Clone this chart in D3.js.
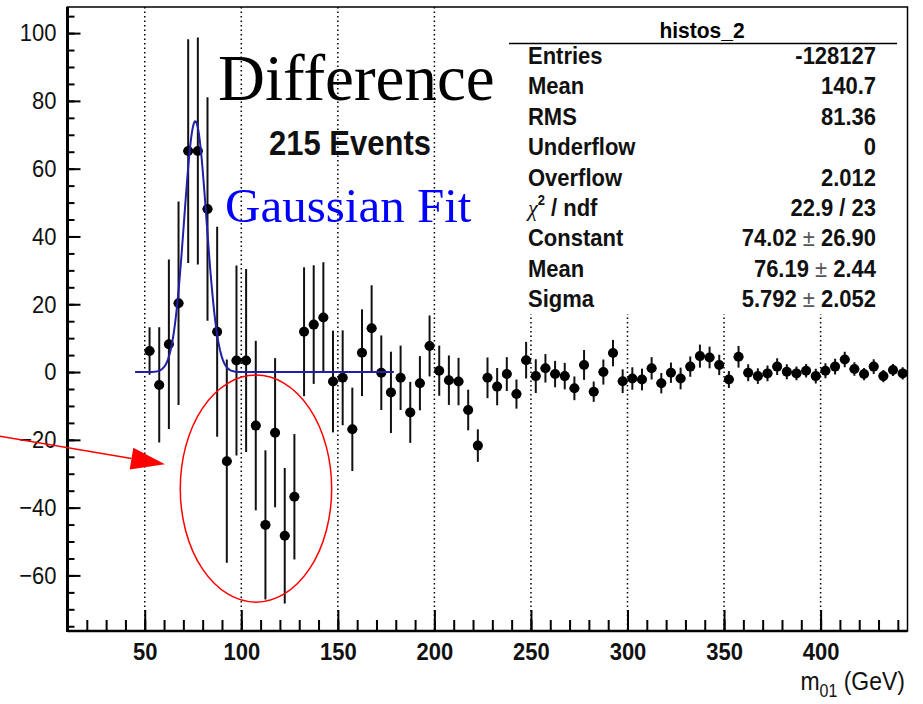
<!DOCTYPE html>
<html>
<head>
<meta charset="utf-8">
<script src="https://cdn.jsdelivr.net/npm/d3@7"></script>
<style>
  body { margin: 0; background: #fff; }
  svg { display: block; }
</style>
</head>
<body>
<svg id="chart"></svg>
<script>
// bin centres (GeV), bin width 5
const binCenters = [
  52.5, 57.5, 62.5, 67.5, 72.5, 77.5, 82.5, 87.5, 92.5, 97.5,
  102.5, 107.5, 112.5, 117.5, 122.5, 127.5, 132.5, 137.5, 142.5, 147.5,
  152.5, 157.5, 162.5, 167.5, 172.5, 177.5, 182.5, 187.5, 192.5, 197.5,
  202.5, 207.5, 212.5, 217.5, 222.5, 227.5, 232.5, 237.5, 242.5, 247.5,
  252.5, 257.5, 262.5, 267.5, 272.5, 277.5, 282.5, 287.5, 292.5, 297.5,
  302.5, 307.5, 312.5, 317.5, 322.5, 327.5, 332.5, 337.5, 342.5, 347.5,
  352.5, 357.5, 362.5, 367.5, 372.5, 377.5, 382.5, 387.5, 392.5, 397.5,
  402.5, 407.5, 412.5, 417.5, 422.5, 427.5, 432.5, 437.5, 442.5
];
const binValues = [
  6.2, -3.8, 8.2, 20.3, 65.2, 65.2, 48.1, 11.9, -26.3, 3.4,
  3.4, -15.8, -45.1, -17.9, -48.3, -36.8, 11.9, 14.0, 16.1, -2.8,
  -1.7, -16.9, 5.7, 12.9, -0.2, -6.0, -1.7, -11.9, -3.3, 7.7,
  0.4, -2.4, -2.8, -11.2, -21.7, -1.7, -4.3, -0.6, -6.5, 3.5,
  -1.2, 1.1, -0.6, -1.2, -4.8, 2.1, -5.8, 0.0, 5.6, -2.7,
  -1.9, -2.2, 1.1, -3.3, -0.2, -1.9, 1.6, 4.7, 4.3, 2.1,
  -2.2, 4.5, -0.2, -1.2, -0.4, 1.6, 0.1, -0.4, 0.4, -1.2,
  0.4, 1.6, 3.7, 0.9, -0.6, 1.6, -1.2, 0.6, -0.4
];
const binErrors = [
  7, 17, 25, 30, 33, 33.5, 33, 31, 30, 28,
  27, 25, 22, 22, 20, 18.5, 19, 17.5, 16.3, 15,
  14, 12.3, 12.8, 12.7, 11, 12, 9.5, 9, 8, 9,
  7.4, 7.3, 7, 6, 4.8, 6, 5.5, 5, 4.3, 5.4,
  5, 4.2, 3.9, 3.9, 3.5, 4.4, 3, 3.7, 3.9, 3.5,
  3.3, 3.2, 3.3, 3, 3, 3.2, 3, 3.4, 3.2, 3,
  2.5, 3.2, 2.5, 2.3, 2.3, 2.5, 2.2, 2, 2, 2.2,
  2.2, 2.3, 2.3, 2, 1.8, 2.2, 1.8, 1.8, 1.8
];
const binWidth = 5;

// gaussian fit parameters (from stats box)
const fitConstant = 74.02;
const fitMean = 76.19;
const fitSigma = 5.792;
const fitRange = [45, 179];

const statLabels = ["Entries", "Mean", "RMS", "Underflow", "Overflow", "chi2", "Constant", "Mean", "Sigma"];
const statValues = ["-128127", "140.7", "81.36", "0", "2.012", "22.9 / 23", "74.02|26.90", "76.19|2.44", "5.792|2.052"];

const xTicks = [50, 100, 150, 200, 250, 300, 350, 400];
const yTicks = [-60, -40, -20, 0, 20, 40, 60, 80, 100];

const width = 923, height = 704;
const svg = d3.select("#chart").attr("width", width).attr("height", height);
svg.append("rect").attr("width", width).attr("height", height).attr("fill", "#fff");

const x = d3.scaleLinear().domain([10, 445]).range([67.5, 907.5]);
const y = d3.scaleLinear().domain([-76.4, 107.7]).range([631, 7]);

const pLeft = x.range()[0], pRight = x.range()[1];
const pTop = y.range()[1], pBottom = y.range()[0];

// the picture's sans text is a little taller than wide
const stretch = (sel, k) => sel.attr("transform", function() {
  const tx = +this.getAttribute("x") || 0, ty = +this.getAttribute("y") || 0;
  return `translate(${tx},${ty}) scale(1,${k}) translate(${-tx},${-ty})`;
});

// dotted vertical grid
svg.append("g")
  .selectAll("line")
  .data(xTicks)
  .enter()
  .append("line")
  .attr("x1", d => x(d)).attr("x2", d => x(d))
  .attr("y1", pTop).attr("y2", pBottom)
  .attr("stroke", "#000")
  .attr("stroke-width", 1.5)
  .attr("stroke-dasharray", "1.5,3");

svg.append("clipPath").attr("id", "frame")
  .append("rect").attr("x", pLeft).attr("y", pTop).attr("width", pRight - pLeft).attr("height", pBottom - pTop);

const plot = svg.append("g").attr("clip-path", "url(#frame)");

const points = binCenters.map((c, i) => ({c: c, v: binValues[i], e: binErrors[i]}));

// error bars
plot.selectAll(".ey")
  .data(points)
  .enter()
  .append("line")
  .attr("class", "ey")
  .attr("x1", d => x(d.c)).attr("x2", d => x(d.c))
  .attr("y1", d => y(d.v - d.e)).attr("y2", d => y(d.v + d.e))
  .attr("stroke", "#111").attr("stroke-width", 2);

plot.selectAll(".ex")
  .data(points)
  .enter()
  .append("line")
  .attr("class", "ex")
  .attr("x1", d => x(d.c - binWidth / 2)).attr("x2", d => x(d.c + binWidth / 2))
  .attr("y1", d => y(d.v)).attr("y2", d => y(d.v))
  .attr("stroke", "#111").attr("stroke-width", 2);

plot.selectAll("circle")
  .data(points)
  .enter()
  .append("circle")
  .attr("cx", d => x(d.c)).attr("cy", d => y(d.v))
  .attr("r", 5)
  .attr("fill", "#000");

// fit curve
const gauss = m => fitConstant * Math.exp(-0.5 * Math.pow((m - fitMean) / fitSigma, 2));
const fitPts = d3.range(fitRange[0], fitRange[1] + 0.01, 0.5);
plot.append("path")
  .datum(fitPts)
  .attr("d", d3.line().x(m => x(m)).y(m => y(gauss(m))))
  .attr("fill", "none")
  .attr("stroke", "#1f1fa8")
  .attr("stroke-width", 2);

// axes
const yMinor = svg.append("g")
  .attr("transform", `translate(${pLeft},0)`)
  .call(d3.axisLeft(y).tickValues(d3.range(-75, 106, 5)).tickSize(-7).tickFormat(""));
const yMajor = svg.append("g")
  .attr("transform", `translate(${pLeft},0)`)
  .call(d3.axisLeft(y).tickValues(yTicks).tickSize(-13).tickPadding(11));
const xMinor = svg.append("g")
  .attr("transform", `translate(0,${pBottom})`)
  .call(d3.axisBottom(x).tickValues(d3.range(20, 445, 10)).tickSize(-11).tickFormat(""));
const xMajor = svg.append("g")
  .attr("transform", `translate(0,${pBottom})`)
  .call(d3.axisBottom(x).tickValues(xTicks).tickSize(-21).tickPadding(10));

[yMinor, yMajor, xMinor, xMajor].forEach(g => {
  g.selectAll(".domain").remove();
  g.selectAll(".tick line").attr("stroke", "#000").attr("stroke-width", 2);
});
yMajor.selectAll("text")
  .attr("font-family", "Liberation Sans, Arial, sans-serif")
  .attr("font-size", 22)
  .attr("fill", "#111")
  .attr("transform", "scale(1,1.1)");
xMajor.selectAll("text")
  .attr("font-family", "Liberation Sans, Arial, sans-serif")
  .attr("font-size", 22)
  .attr("font-weight", "bold")
  .attr("fill", "#111")
  .attr("transform", "scale(1,1.12)");

// stats box (covers grid)
const stats = svg.append("g");
stats.append("rect")
  .attr("x", 505).attr("y", pTop).attr("width", pRight - 505).attr("height", 307)
  .attr("fill", "#fff");
stats.append("text")
  .attr("x", 702).attr("y", 38)
  .attr("text-anchor", "middle")
  .attr("font-family", "Liberation Sans, Arial, sans-serif")
  .attr("font-size", 21).attr("font-weight", "bold")
  .text("histos_2")
  .call(stretch, 1.08);
stats.append("line")
  .attr("x1", 509).attr("x2", 897).attr("y1", 43.5).attr("y2", 43.5)
  .attr("stroke", "#000").attr("stroke-width", 1.5);

statLabels.forEach((lab, i) => {
  const yy = 64 + i * 30.4;
  const t = stats.append("text")
    .attr("x", 528).attr("y", yy)
    .attr("font-family", "Liberation Sans, Arial, sans-serif")
    .attr("font-size", 22).attr("font-weight", "bold")
    .attr("fill", "#111")
    .call(stretch, 1.08);
  if (lab === "chi2") {
    t.append("tspan").attr("font-family", "Liberation Serif, serif").attr("font-style", "italic").attr("font-weight", "normal").text("χ");
    t.append("tspan").attr("font-size", 13).attr("dy", -10).text("2");
    t.append("tspan").attr("dy", 10).text(" / ndf");
  } else {
    t.text(lab);
  }
  const v = stats.append("text")
    .attr("x", 876).attr("y", yy)
    .attr("text-anchor", "end")
    .attr("font-family", "Liberation Sans, Arial, sans-serif")
    .attr("font-size", 22).attr("font-weight", "bold")
    .attr("fill", "#111")
    .call(stretch, 1.08);
  const parts = statValues[i].split("|");
  if (parts.length === 2) {
    v.append("tspan").text(parts[0]);
    v.append("tspan").attr("font-weight", "normal").attr("fill", "#555").text(" ± ");
    v.append("tspan").text(parts[1]);
  } else {
    v.text(statValues[i]);
  }
});

// frame
svg.append("rect")
  .attr("x", pLeft).attr("y", pTop).attr("width", pRight - pLeft).attr("height", pBottom - pTop)
  .attr("fill", "none").attr("stroke", "#000").attr("stroke-width", 1.5);
svg.append("line").attr("x1", pLeft).attr("x2", pLeft).attr("y1", pTop).attr("y2", pBottom + 1)
  .attr("stroke", "#000").attr("stroke-width", 3);
svg.append("line").attr("x1", pLeft).attr("x2", pRight).attr("y1", pBottom).attr("y2", pBottom)
  .attr("stroke", "#000").attr("stroke-width", 2.5);

// axis title
const xt = svg.append("text")
  .attr("x", 905).attr("y", 690)
  .attr("text-anchor", "end")
  .attr("font-family", "Liberation Sans, Arial, sans-serif")
  .attr("font-size", 23)
  .attr("fill", "#111")
  .call(stretch, 1.1);
xt.append("tspan").text("m");
xt.append("tspan").attr("font-size", 16).attr("dy", 6).text("01");
xt.append("tspan").attr("dy", -6).text(" (GeV)");

// labels
svg.append("text")
  .attr("x", 218).attr("y", 100)
  .attr("font-family", "Liberation Serif, Times New Roman, serif")
  .attr("font-size", 65)
  .text("Difference");
svg.append("text")
  .attr("x", 269).attr("y", 155)
  .attr("font-family", "Liberation Sans, Arial, sans-serif")
  .attr("font-size", 31).attr("font-weight", "bold")
  .attr("fill", "#111")
  .text("215 Events")
  .call(stretch, 1.12);
svg.append("text")
  .attr("x", 225).attr("y", 222)
  .attr("font-family", "Liberation Serif, Times New Roman, serif")
  .attr("font-size", 49)
  .attr("fill", "#0000ff")
  .text("Gaussian Fit");

// annotation: ellipse and arrow
const ellipse = {cx: 107.6, cy: -34.4, rx: 39.2, ry: 33.5};
svg.append("ellipse")
  .attr("cx", x(ellipse.cx)).attr("cy", y(ellipse.cy))
  .attr("rx", x(ellipse.cx + ellipse.rx) - x(ellipse.cx))
  .attr("ry", y(ellipse.cy - ellipse.ry) - y(ellipse.cy))
  .attr("fill", "none").attr("stroke", "#f00").attr("stroke-width", 1.5);

const arrow = {x0: -25.3, y0: -18.9, x1: 60.5, y1: -27.2};
const ax0 = x(arrow.x0), ay0 = y(arrow.y0), ax1 = x(arrow.x1), ay1 = y(arrow.y1);
const ang = Math.atan2(ay1 - ay0, ax1 - ax0);
const headLen = 34, headHalf = 11;
const bx = ax1 - headLen * Math.cos(ang), by = ay1 - headLen * Math.sin(ang);
svg.append("line")
  .attr("x1", ax0).attr("y1", ay0).attr("x2", bx).attr("y2", by)
  .attr("stroke", "#f00").attr("stroke-width", 1.5);
svg.append("path")
  .attr("d", `M${ax1},${ay1}L${bx - headHalf * Math.sin(ang)},${by + headHalf * Math.cos(ang)}L${bx + headHalf * Math.sin(ang)},${by - headHalf * Math.cos(ang)}Z`)
  .attr("fill", "#f00");
</script>
</body>
</html>
